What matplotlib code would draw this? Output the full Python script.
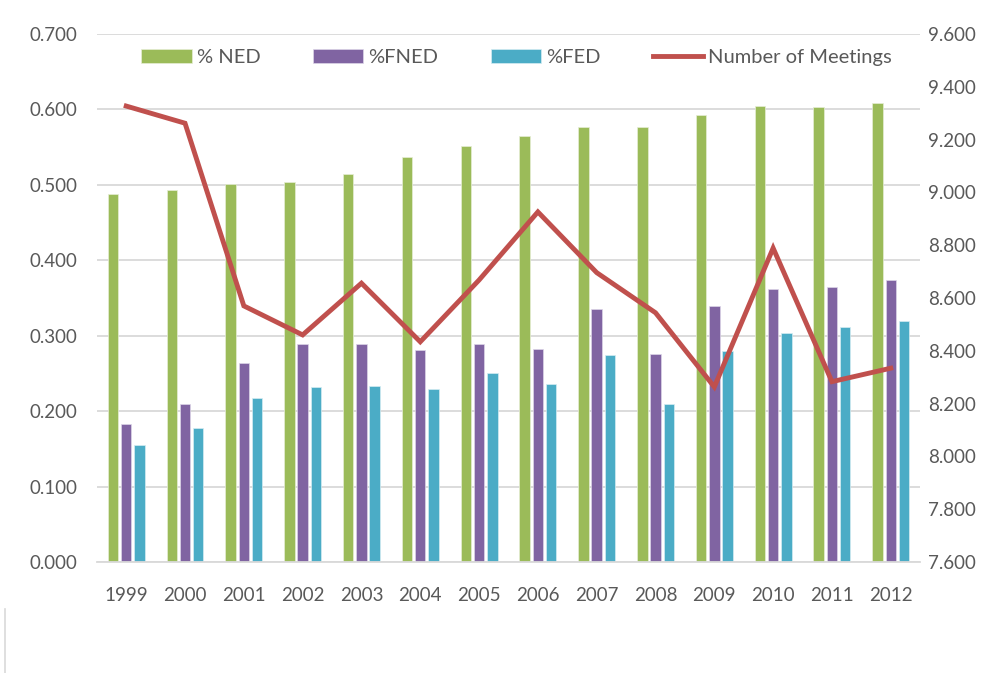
import matplotlib.pyplot as plt
import matplotlib.lines as mlines
import numpy as np

years = ["1999", "2000", "2001", "2002", "2003", "2004", "2005",
         "2006", "2007", "2008", "2009", "2010", "2011", "2012"]
pctNED = [0.488, 0.493, 0.501, 0.504, 0.514, 0.537, 0.552,
          0.565, 0.577, 0.577, 0.593, 0.605, 0.603, 0.608]
pctFNED = [0.183, 0.210, 0.264, 0.289, 0.289, 0.281, 0.289,
           0.283, 0.335, 0.276, 0.339, 0.362, 0.365, 0.374]
pctFED = [0.155, 0.177, 0.217, 0.232, 0.233, 0.229, 0.250,
          0.236, 0.274, 0.210, 0.280, 0.303, 0.311, 0.320]
meetings = [9.327, 9.262, 8.570, 8.460, 8.656, 8.434, 8.668,
            8.926, 8.696, 8.544, 8.263, 8.789, 8.283, 8.334]

leftTicks = [0.0, 0.1, 0.2, 0.3, 0.4, 0.5, 0.6, 0.7]
rightTicks = [7.6, 7.8, 8.0, 8.2, 8.4, 8.6, 8.8, 9.0, 9.2, 9.4, 9.6]

plt.rcParams["font.family"] = ["Lato", "DejaVu Sans"]
textColor = "#595959"
gridColor = "#D9D9D9"

fig = plt.figure(figsize=(9.98, 6.73), dpi=100)
ax = fig.add_axes([0.097, 0.165, 0.825, 0.7845])
ax2 = ax.twinx()

x = np.arange(len(years))
w = 0.178
step = 0.225
b1 = ax.bar(x - step, pctNED, w, color="#9BBB59", edgecolor="#E6EED5", linewidth=0.5, label="% NED", zorder=2)
b2 = ax.bar(x, pctFNED, w, color="#8064A2", edgecolor="#DDD5E8", linewidth=0.5, label="%FNED", zorder=2)
b3 = ax.bar(x + step, pctFED, w, color="#4BACC6", edgecolor="#D5ECF2", linewidth=0.5, label="%FED", zorder=2)
ln, = ax2.plot(x, meetings, color="#C0504D", linewidth=3.5, solid_joinstyle="miter", label="Number of Meetings")

ax.set_xlim(-0.5, len(years) - 0.5)
ax.set_ylim(0, 0.7)
ax.set_yticks(leftTicks)
ax.set_yticklabels(["%.3f" % v for v in leftTicks])
ax.set_xticks(x)
ax.set_xticklabels(years)
ax2.set_ylim(7.6, 9.6)
ax2.set_yticks(rightTicks)
ax2.set_yticklabels(["%.3f" % v for v in rightTicks])

ax.yaxis.grid(True, color=gridColor, linewidth=1.3, zorder=0)
ax.set_axisbelow(True)
for a in (ax, ax2):
    for s in a.spines.values():
        s.set_visible(False)
    a.tick_params(length=0, colors=textColor, labelsize=13.5)
ax.spines["bottom"].set_visible(True)
ax.spines["bottom"].set_color(gridColor)
ax.spines["bottom"].set_linewidth(1.3)
ax.tick_params(axis="x", pad=18)
ax.tick_params(axis="y", pad=14)
ax2.tick_params(axis="y", pad=6)

leg = ax2.legend([b1, b2, b3, ln], ["% NED", "%FNED", "%FED", "Number of Meetings"],
                 loc="upper center", bbox_to_anchor=(0.51, 1.006), ncol=4, frameon=False,
                 fontsize=14.5, handlelength=2.5, handleheight=0.7, columnspacing=2.6,
                 handletextpad=0.25)
for t in leg.get_texts():
    t.set_color(textColor)

fig.add_artist(mlines.Line2D([0.005, 0.005], [0, 0.095], color=gridColor, linewidth=1.2))

fig.savefig("out.png", dpi=100)
